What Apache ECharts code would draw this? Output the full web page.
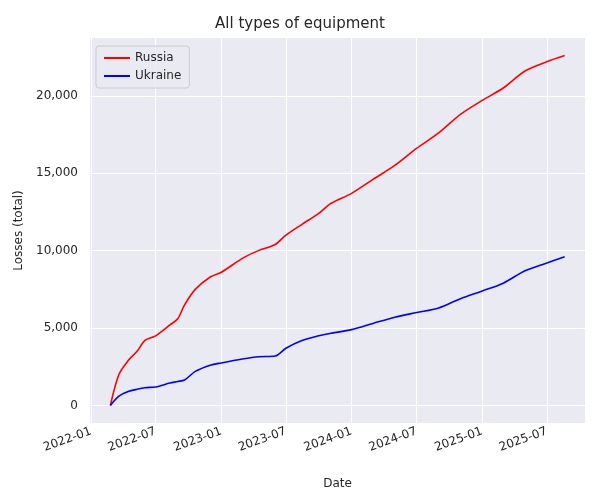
<!DOCTYPE html><html><head><meta charset="utf-8">
<script src="https://cdn.jsdelivr.net/npm/echarts@6/dist/echarts.min.js"></script>
<style>html,body{margin:0}#c{width:600px;height:500px}</style></head><body><div id="c"></div>
<script>
const dates=['2022-02-24','2022-03-20','2022-04-15','2022-05-10','2022-06-01','2022-07-01','2022-08-10','2022-09-01','2022-09-20','2022-10-20','2022-12-01','2023-01-01','2023-03-01','2023-04-15','2023-06-01','2023-07-01','2023-08-15','2023-10-01','2023-11-01','2024-01-01','2024-03-01','2024-05-01','2024-07-01','2024-09-01','2024-11-01','2025-01-01','2025-03-01','2025-05-01','2025-07-01','2025-08-20'];
const russia=[0,2000,2900,3500,4200,4500,5200,5600,6500,7500,8300,8600,9500,10000,10400,11000,11700,12400,13000,13700,14600,15500,16600,17600,18800,19700,20500,21600,22200,22600];
const ukraine=[0,600,900,1050,1150,1200,1450,1550,1650,2200,2600,2750,3000,3150,3200,3700,4200,4500,4650,4900,5300,5700,6000,6300,6900,7400,7900,8700,9200,9600];
const xTicks=['2022-01-01','2022-07-01','2023-01-01','2023-07-01','2024-01-01','2024-07-01','2025-01-01','2025-07-01'];
const yTicks=[0,5000,10000,15000,20000];
const ts=d=>Date.parse(d+'T00:00:00Z');
const xt=xTicks.map(ts);
const ch=echarts.init(document.getElementById('c'));
const font='DejaVu Sans';
const fmt=v=>{const d=new Date(v);return d.getUTCFullYear()+'-'+String(d.getUTCMonth()+1).padStart(2,'0');};
ch.setOption({
 backgroundColor:'#fff',
 title:{text:'All types of equipment',left:'center',top:12,textStyle:{fontFamily:font,fontSize:15,fontWeight:'normal',color:'#262626'}},
 legend:{left:96,top:46,orient:'vertical',itemWidth:26,itemHeight:2,backgroundColor:'rgba(234,234,242,0.8)',borderColor:'#ccc',borderWidth:1,borderRadius:3,padding:[6,8],itemGap:6,textStyle:{fontFamily:font,fontSize:12,color:'#262626'},data:[{name:'Russia',icon:'rect'},{name:'Ukraine',icon:'rect'}]},
 grid:{left:90,right:15,top:38,bottom:77,show:true,backgroundColor:'#eaeaf2',borderWidth:0},
 xAxis:{type:'value',min:ts('2021-12-29'),max:ts('2025-10-16'),name:'Date',nameLocation:'middle',nameGap:55,nameTextStyle:{fontFamily:font,fontSize:12,color:'#262626'},
  axisLine:{show:false},axisTick:{show:false,customValues:xt},
  axisLabel:{customValues:xt,rotate:20,fontFamily:font,fontSize:12,color:'#262626',margin:8,formatter:fmt},
  splitLine:{show:true,lineStyle:{color:'#fff',width:1}}},
 yAxis:{type:'value',min:-1130,max:23730,name:'Losses (total)',nameLocation:'middle',nameGap:60,nameTextStyle:{fontFamily:font,fontSize:12,color:'#262626'},
  axisLine:{show:false},axisTick:{show:false,customValues:yTicks},
  axisLabel:{customValues:yTicks,fontFamily:font,fontSize:12,color:'#262626',margin:12},
  splitLine:{show:true,lineStyle:{color:'#fff',width:1}}},
 series:[
  {name:'Russia',type:'line',smooth:0.3,symbol:'none',color:'#ff0000',lineStyle:{width:1.6},data:dates.map((d,i)=>[ts(d),russia[i]])},
  {name:'Ukraine',type:'line',smooth:0.3,symbol:'none',color:'#0000ff',lineStyle:{width:1.6},data:dates.map((d,i)=>[ts(d),ukraine[i]])}
 ]
});
</script></body></html>
